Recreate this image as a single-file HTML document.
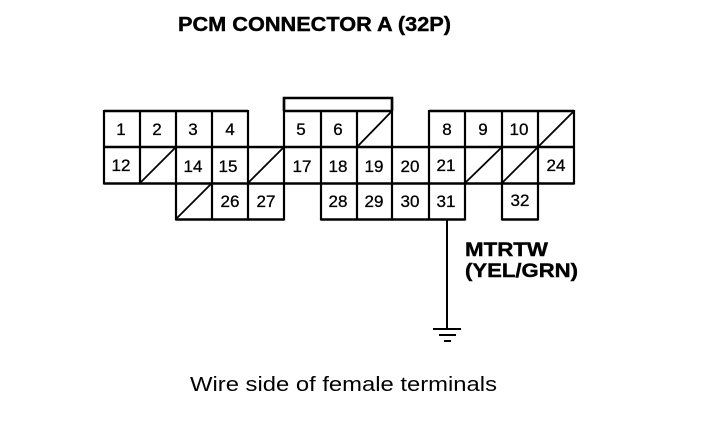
<!DOCTYPE html>
<html>
<head>
<meta charset="utf-8">
<style>
html,body{margin:0;padding:0;background:#fff;width:704px;height:428px;overflow:hidden}
svg{display:block}
text{font-family:"Liberation Sans",sans-serif;fill:#000}
.n{font-size:17px;text-anchor:middle;stroke:#000;stroke-width:.3px}
.b{font-weight:bold;stroke:#000;stroke-width:.4px}
</style>
</head>
<body>
<svg width="704" height="428" viewBox="0 0 704 428" xmlns="http://www.w3.org/2000/svg">
<rect width="704" height="428" fill="#fff"/>
<text class="b" x="178" y="31" font-size="20" textLength="273" lengthAdjust="spacingAndGlyphs">PCM CONNECTOR A (32P)</text>

<g fill="none" stroke="#000" stroke-width="2.6">
<!-- top bracket -->
<path d="M284 111V98H392V111"/>
<!-- row 1 -->
<path d="M104 111H248M284 111H392M429 111H574"/>
<!-- row 2 top -->
<path d="M104 147H574"/>
<!-- row 2 bottom -->
<path d="M104 183.500H574"/>
<!-- row 3 bottom -->
<path d="M176 219.500H284M321 219.500H465M502 219.500H538"/>
</g>
<g fill="none" stroke="#000" stroke-width="2.200">
<!-- verticals -->
<path d="M104 110V184.500"/>
<path d="M140 111V183"/>
<path d="M176 110V220.500"/>
<path d="M212 111V219"/>
<path d="M248 110V219"/>
<path d="M284 98V220.500"/>
<path d="M321 111V220.500"/>
<path d="M357 111V219"/>
<path d="M392 98V219"/>
<path d="M429 110V219"/>
<path d="M465 111V220.500"/>
<path d="M502 111V220.500"/>
<path d="M538 111V220.500"/>
<path d="M574 110V184.500"/>
</g>
<!-- diagonals -->
<g fill="none" stroke="#000" stroke-width="1.800">
<path d="M140 183L176 147"/>
<path d="M248 183L284 147"/>
<path d="M176 219L212 183"/>
<path d="M357 147L392 111"/>
<path d="M465 183L502 147"/>
<path d="M502 183L538 147"/>
<path d="M538 147L574 111"/>
</g>

<!-- gaps between cell groups -->
<rect x="249.500" y="109" width="33" height="36.600" fill="#fff"/>
<rect x="393.500" y="109" width="34" height="36.600" fill="#fff"/>
<rect x="466.500" y="185" width="34" height="40" fill="#fff"/>
<rect x="539.500" y="185" width="40" height="40" fill="#fff"/>
<rect x="285.500" y="185" width="34" height="40" fill="#fff"/>

<g>
<text class="n" x="121" y="135">1</text>
<text class="n" x="157" y="135">2</text>
<text class="n" x="193" y="135">3</text>
<text class="n" x="230" y="135">4</text>
<text class="n" x="301" y="135">5</text>
<text class="n" x="338" y="135">6</text>
<text class="n" x="447" y="135">8</text>
<text class="n" x="483" y="135">9</text>
<text class="n" x="519" y="135">10</text>

<text class="n" x="121" y="171">12</text>
<text class="n" x="193" y="172">14</text>
<text class="n" x="228" y="172">15</text>
<text class="n" x="302" y="172">17</text>
<text class="n" x="338" y="172">18</text>
<text class="n" x="374" y="172">19</text>
<text class="n" x="410" y="172">20</text>
<text class="n" x="446" y="171">21</text>
<text class="n" x="556" y="171">24</text>

<text class="n" x="230" y="207">26</text>
<text class="n" x="266" y="207">27</text>
<text class="n" x="338" y="207">28</text>
<text class="n" x="374" y="207">29</text>
<text class="n" x="410" y="207">30</text>
<text class="n" x="446" y="207">31</text>
<text class="n" x="520" y="206">32</text>
</g>

<!-- wire and ground -->
<path d="M447 220V328" fill="none" stroke="#000" stroke-width="2"/>
<path d="M433 329H461" fill="none" stroke="#000" stroke-width="2"/>
<path d="M439 335H456" fill="none" stroke="#000" stroke-width="2"/>
<path d="M444 341H451" fill="none" stroke="#000" stroke-width="2"/>

<text class="b" x="465" y="256" font-size="19" textLength="83" lengthAdjust="spacingAndGlyphs">MTRTW</text>
<text class="b" x="465" y="277" font-size="19" textLength="113" lengthAdjust="spacingAndGlyphs">(YEL/GRN)</text>

<text x="190" y="391" font-size="20" textLength="307" lengthAdjust="spacingAndGlyphs">Wire side of female terminals</text>
</svg>
</body>
</html>
